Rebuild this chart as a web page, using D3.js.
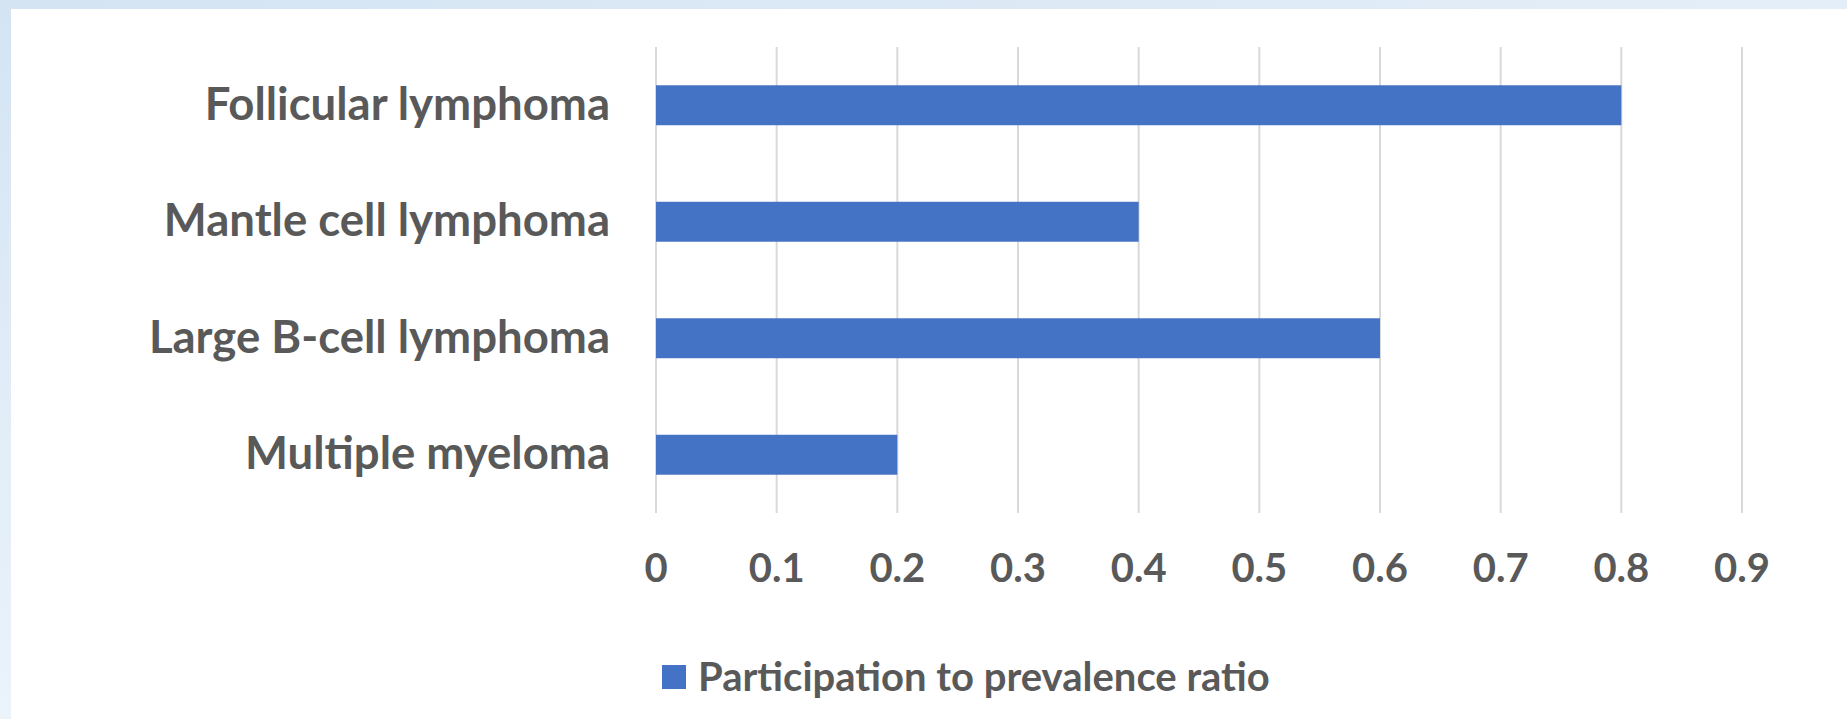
<!DOCTYPE html>
<html>
<head>
<meta charset="utf-8">
<script src="https://cdn.jsdelivr.net/npm/d3@7"></script>
<style>
  html, body { margin: 0; padding: 0; background: #ffffff; }
  svg { display: block; }
</style>
</head>
<body>
<svg id="chart" width="1847" height="719"></svg>
<script>
// Categories top to bottom and their ratio values
const categories = ["Follicular lymphoma", "Mantle cell lymphoma", "Large B-cell lymphoma", "Multiple myeloma"];
const ratios = [0.8, 0.4, 0.6, 0.2];
const tickValues = [0, 0.1, 0.2, 0.3, 0.4, 0.5, 0.6, 0.7, 0.8, 0.9];
const seriesName = "Participation to prevalence ratio";

const W = 1847, H = 719;
const FONT = "Lato, 'Open Sans', sans-serif";
const TEXT = "#595959";
const BAR = "#4472C4";
const GRID = "#d9d9d9";

const svg = d3.select("#chart");

// Light blue frame on the top and left edges
const defs = svg.append("defs");
const g1 = defs.append("linearGradient").attr("id", "frameV").attr("x1", 0).attr("y1", 0).attr("x2", 0).attr("y2", 1);
g1.append("stop").attr("offset", "0%").attr("stop-color", "#d4e4f3");
g1.append("stop").attr("offset", "100%").attr("stop-color", "#ebf3fb");
const g2 = defs.append("linearGradient").attr("id", "frameH").attr("x1", 0).attr("y1", 0).attr("x2", 1).attr("y2", 0);
g2.append("stop").attr("offset", "0%").attr("stop-color", "#d4e4f3");
g2.append("stop").attr("offset", "100%").attr("stop-color", "#e4eef8");
svg.append("rect").attr("x", 0).attr("y", 0).attr("width", W).attr("height", 9).attr("fill", "url(#frameH)");
svg.append("rect").attr("x", 0).attr("y", 0).attr("width", 11).attr("height", H).attr("fill", "url(#frameV)");

// Scales
const x = d3.scaleLinear().domain([0, 0.9]).range([656, 1742]);
const y = d3.scaleBand().domain(categories).range([47, 513]).paddingInner(0.657).paddingOuter(0.3285);

// Vertical gridlines
svg.append("g").selectAll("line").data(tickValues).join("line")
  .attr("x1", d => x(d)).attr("x2", d => x(d))
  .attr("y1", 47).attr("y2", 513)
  .attr("stroke", GRID).attr("stroke-width", 2);

// Bars
svg.append("g").selectAll("rect").data(categories).join("rect")
  .attr("x", x(0))
  .attr("y", d => y(d))
  .attr("width", (d, i) => x(ratios[i]) - x(0))
  .attr("height", y.bandwidth())
  .attr("fill", BAR);

// Category labels
svg.append("g").selectAll("text").data(categories).join("text")
  .attr("x", 610)
  .attr("y", d => y(d) + y.bandwidth() / 2 - 3)
  .attr("text-anchor", "end")
  .attr("dominant-baseline", "central")
  .attr("font-family", FONT).attr("font-weight", 700).attr("font-size", 45.5)
  .attr("fill", TEXT)
  .text(d => d);

// Value axis labels
svg.append("g").selectAll("text").data(tickValues).join("text")
  .attr("x", d => x(d))
  .attr("y", 567)
  .attr("text-anchor", "middle")
  .attr("dominant-baseline", "central")
  .attr("font-family", FONT).attr("font-weight", 700).attr("font-size", 40)
  .attr("fill", TEXT)
  .text(d => d3.format("")(d));

// Legend
const legend = svg.append("g");
legend.append("rect").attr("x", 662).attr("y", 665).attr("width", 24).attr("height", 24).attr("fill", BAR);
legend.append("text").attr("x", 698).attr("y", 676)
  .attr("dominant-baseline", "central")
  .attr("font-family", FONT).attr("font-weight", 700).attr("font-size", 40)
  .attr("fill", TEXT)
  .text(seriesName);
</script>
</body>
</html>
